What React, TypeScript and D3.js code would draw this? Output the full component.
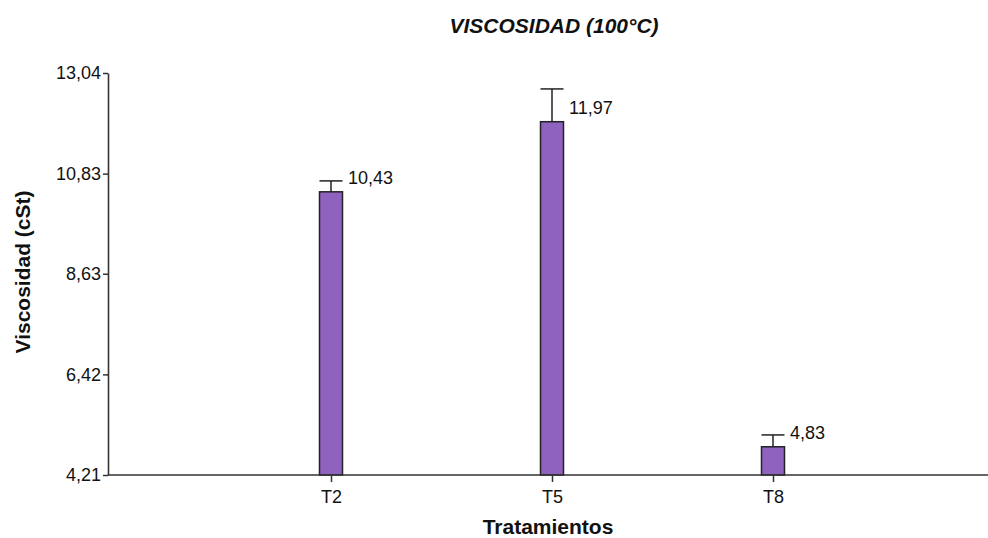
import React, { useEffect, useRef } from 'react';
import * as d3 from 'd3';

const categories = ['T2', 'T5', 'T8'];
const means = [10.43, 11.97, 4.83];
const errors = [0.24, 0.72, 0.26];
const yTicks = [4.21, 6.42, 8.63, 10.83, 13.04];

const W = 988;
const H = 538;

export default function App() {
  const svgRef = useRef<SVGSVGElement>(null);

  useEffect(() => {
    if (!svgRef.current) return;
    const svg = d3.select(svgRef.current);
    svg.selectAll('*').remove();

    const font = 'Arial, "Liberation Sans", sans-serif';
    const axisColor = '#333';

    const x = d3.scalePoint<string>().domain(categories).range([110, 994]).padding(1);
    const y = d3.scaleLinear().domain([4.21, 13.04]).range([475, 73]);
    const barW = 23;

    // title
    svg.append('text')
      .attr('x', 554).attr('y', 33)
      .attr('text-anchor', 'middle')
      .attr('font-family', font).attr('font-size', 21)
      .attr('font-weight', 'bold').attr('font-style', 'italic')
      .attr('fill', '#111')
      .text('VISCOSIDAD (100°C)');

    // bars
    svg.selectAll('.bar')
      .data(means)
      .enter().append('rect')
      .attr('x', (_, i) => x(categories[i])! - barW / 2)
      .attr('y', d => y(d))
      .attr('width', barW)
      .attr('height', d => y(4.21) - y(d))
      .attr('fill', '#9062bf')
      .attr('stroke', '#222')
      .attr('stroke-width', 1.5);

    // error bars
    means.forEach((m, i) => {
      const cx = x(categories[i])!;
      svg.append('line')
        .attr('x1', cx).attr('x2', cx)
        .attr('y1', y(m)).attr('y2', y(m + errors[i]))
        .attr('stroke', '#222').attr('stroke-width', 1.5);
      svg.append('line')
        .attr('x1', cx - barW / 2).attr('x2', cx + barW / 2)
        .attr('y1', y(m + errors[i])).attr('y2', y(m + errors[i]))
        .attr('stroke', '#222').attr('stroke-width', 1.5);
      svg.append('text')
        .attr('x', cx + 17).attr('y', y(m) - 8)
        .attr('font-family', font).attr('font-size', 18)
        .attr('fill', '#111')
        .text(m.toFixed(2).replace('.', ','));
    });

    // x axis
    const xAxis = svg.append('g')
      .attr('transform', `translate(0,${y(4.21)})`)
      .call(d3.axisBottom(x).tickSize(7).tickSizeOuter(0));
    xAxis.select('.domain').attr('d', `M108,0H988`).attr('stroke', axisColor).attr('stroke-width', 1.6);
    xAxis.selectAll('.tick line').attr('stroke', axisColor).attr('stroke-width', 1.5);
    xAxis.selectAll('.tick text')
      .attr('font-family', font).attr('font-size', 18).attr('fill', '#111').attr('dy', '1.0em');

    // y axis
    const yAxis = svg.append('g')
      .attr('transform', 'translate(108,0)')
      .call(d3.axisLeft(y).tickValues(yTicks).tickSize(5).tickSizeOuter(0)
        .tickFormat(d => (d as number).toFixed(2).replace('.', ',')));
    yAxis.select('.domain').attr('stroke', axisColor).attr('stroke-width', 1.6);
    yAxis.selectAll('.tick line').attr('stroke', axisColor).attr('stroke-width', 1.5);
    yAxis.selectAll('.tick text')
      .attr('font-family', font).attr('font-size', 18).attr('fill', '#111').attr('x', -7);

    // axis titles
    svg.append('text')
      .attr('x', 548).attr('y', 534)
      .attr('text-anchor', 'middle')
      .attr('font-family', font).attr('font-size', 21).attr('font-weight', 'bold')
      .attr('fill', '#111')
      .text('Tratamientos');

    svg.append('text')
      .attr('transform', 'translate(30,272) rotate(-90)')
      .attr('text-anchor', 'middle')
      .attr('font-family', font).attr('font-size', 21).attr('font-weight', 'bold')
      .attr('fill', '#111')
      .text('Viscosidad (cSt)');
  }, []);

  return (
    <svg
      ref={svgRef}
      width={W}
      height={H}
      style={{ position: 'absolute', left: 0, top: 0, background: '#fff' }}
    />
  );
}
